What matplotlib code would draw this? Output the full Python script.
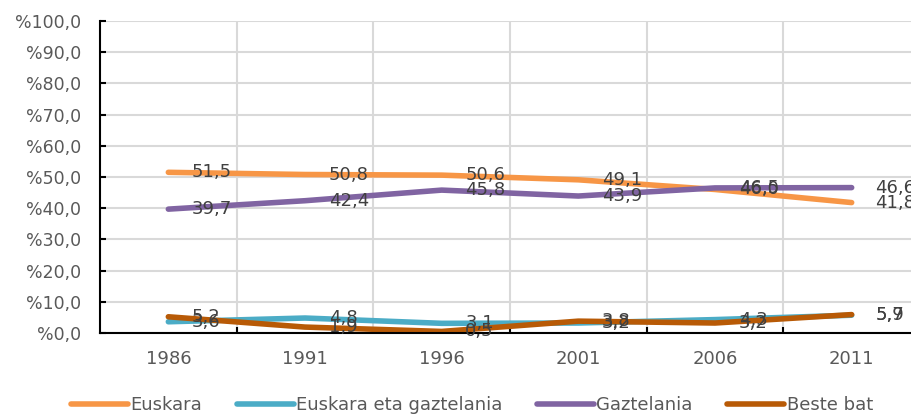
import matplotlib.pyplot as plt
from matplotlib.ticker import FuncFormatter, FixedLocator

years = ["1986", "1991", "1996", "2001", "2006", "2011"]
euskara = [51.5, 50.8, 50.6, 49.1, 46.0, 41.8]
euskara_gazt = [3.6, 4.8, 3.1, 3.2, 4.3, 5.7]
gaztelania = [39.7, 42.4, 45.8, 43.9, 46.5, 46.6]
beste_bat = [5.2, 1.9, 0.5, 3.8, 3.2, 5.9]

series = [
    ("Euskara", euskara, "#F79646"),
    ("Euskara eta gaztelania", euskara_gazt, "#4BACC6"),
    ("Gaztelania", gaztelania, "#8064A2"),
    ("Beste bat", beste_bat, "#B85A06"),
]

plt.rcParams['font.family'] = 'DejaVu Sans'
plt.rcParams['font.size'] = 13

fig = plt.figure(figsize=(9.12, 4.15), dpi=100)
ax = fig.add_axes([100 / 912, 82 / 415, 820 / 912, 312 / 415])

x = list(range(len(years)))
for name, vals, col in series:
    ax.plot(x, vals, color=col, lw=4, solid_capstyle='round', label=name)

# data labels, drawn after all lines
for name, vals, col in series:
    for xi, v in zip(x, vals):
        ax.annotate(f"{v:.1f}".replace(".", ","), (xi, v), xytext=(17, 0),
                    textcoords='offset points', ha='left', va='center',
                    color='#404040', fontsize=13, annotation_clip=False)

ax.set_xlim(-0.5, len(years) - 0.5)
ax.set_ylim(0, 100)
ax.set_yticks(range(0, 101, 10))
ax.yaxis.set_major_formatter(FuncFormatter(lambda v, p: "%" + f"{v:.1f}".replace(".", ",")))
ax.set_xticks(x)
ax.set_xticklabels(years)
ax.xaxis.set_minor_locator(FixedLocator([i + 0.5 for i in range(len(years) - 1)]))

ax.tick_params(axis='x', which='major', length=0, pad=12, colors='#595959')
ax.tick_params(axis='x', which='minor', direction='in', length=4, width=1.5, color='black')
ax.tick_params(axis='y', direction='in', length=4, width=1.5, color='black', pad=13.5,
               labelcolor='#595959', labelsize=12.5)

ax.grid(axis='y', which='major', color='#D9D9D9', lw=1.5)
ax.grid(axis='x', which='minor', color='#D9D9D9', lw=1.5)
ax.set_axisbelow(True)

for s in ['top', 'right']:
    ax.spines[s].set_visible(False)
for s in ['left', 'bottom']:
    ax.spines[s].set_color('black')
    ax.spines[s].set_linewidth(1.5)

fig.legend(loc='center', bbox_to_anchor=(472 / 912, 1 - 405 / 415), ncol=4, frameon=False,
           handlelength=3.15, handletextpad=0.15, columnspacing=1.9,
           labelcolor='#595959', fontsize=13)

fig.savefig("out.png", dpi=100)
